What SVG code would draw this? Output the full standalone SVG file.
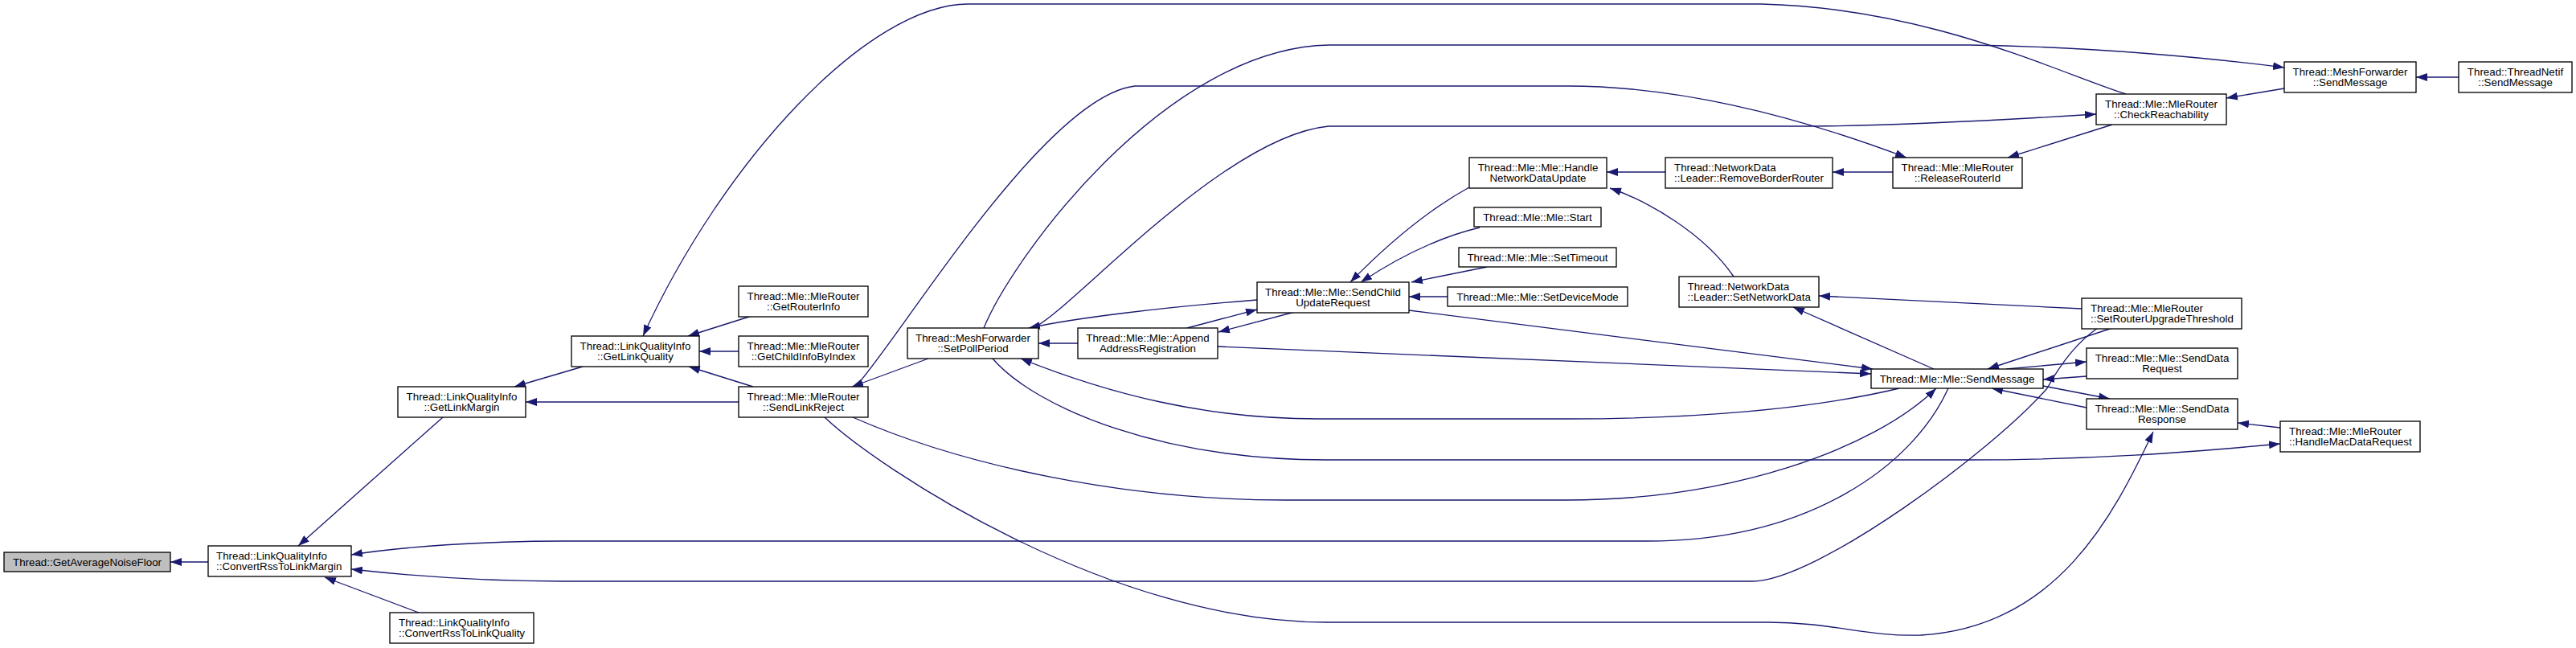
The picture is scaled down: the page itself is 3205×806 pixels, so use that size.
<svg xmlns="http://www.w3.org/2000/svg" width="3205" height="806" viewBox="0 0 3205 806">
<style>
.box{fill:#ffffff;stroke:#000000;stroke-width:1.33}
.root{fill:#bfbfbf;stroke:#000000;stroke-width:1.33}
.t{font-family:"Liberation Sans",Arial,Helvetica,sans-serif;font-size:13.33px;fill:#000000}
.c{text-anchor:middle}
.e{fill:none;stroke:#191970;stroke-width:1.33}
.a{marker-end:url(#ah)}
</style>
<defs>
<marker id="ah" markerUnits="userSpaceOnUse" markerWidth="14" markerHeight="10" refX="13.3" refY="4.7" orient="auto" viewBox="0 0 13.3 9.4">
<path d="M0,0 L13.3,4.7 L0,9.4 z" fill="#191970"/>
</marker>
</defs>
<rect x="0" y="0" width="3205" height="806" fill="#ffffff"/>
<g id="edges">
<path class="e a" d="M259,699 L212,699"/>
<path class="e a" d="M551,519 L371,679"/>
<path class="e a" d="M521,762 L404,718"/>
<path class="e a" d="M725,456 L640,481"/>
<path class="e a" d="M919,500 L654,500"/>
<path class="e a" d="M935,393 L856,418"/>
<path class="e a" d="M919,437 L870,437"/>
<path class="e a" d="M937,481 L857,456"/>
<path class="e a" d="M2645,117 C2560,90 2400,10 2191,5 L1205,5 C1080,5 900,200 800,418"/>
<path class="e a" d="M1066,479 C1120,420 1300,120 1412,107 L1950,107 C2100,107 2250,150 2372,196"/>
<path class="e a" d="M1155,446 L1060,481"/>
<path class="e a" d="M1285,408 C1330,390 1520,170 1653,157 L2237,157 C2350,157 2480,150 2608,142"/>
<path class="e a" d="M1224,408 C1260,320 1450,60 1653,56 L2450,56 C2600,58 2750,72 2842,84"/>
<path class="e a" d="M3059,96 L3006,96"/>
<path class="e a" d="M2842,110 L2770,122"/>
<path class="e a" d="M2628,155 L2498,196"/>
<path class="e a" d="M2355,214 L2280,214"/>
<path class="e a" d="M2072,214 L1999,214"/>
<path class="e a" d="M2157,344 C2120,290 2050,250 2003,234"/>
<path class="e a" d="M2590,384 L2263,368"/>
<path class="e a" d="M2406,459 L2231,382"/>
<path class="e a" d="M2628,408 L2473,459"/>
<path class="e a" d="M2496,459 L2596,450"/>
<path class="e a" d="M2596,468 L2542,472"/>
<path class="e a" d="M2542,480 L2625,496"/>
<path class="e a" d="M2596,507 L2478,483"/>
<path class="e a" d="M2837,532 L2784,526"/>
<path class="e a" d="M1234,445 C1290,510 1450,572 1650,572 L2450,572 C2600,572 2720,563 2837,552"/>
<path class="e a" d="M2363,483 C2250,510 2100,521 1950,521 L1640,521 C1500,521 1380,490 1270,446"/>
<path class="e a" d="M1061,519 C1200,580 1400,622 1600,622 L1950,622 C2150,622 2330,560 2409,483"/>
<path class="e a" d="M2424,483 C2380,580 2250,673 2050,673 L700,673 C600,673 500,680 437,690"/>
<path class="e a" d="M2610,408 C2585,425 2565,450 2547,483 C2480,560 2260,723 2180,723 L700,723 C600,723 500,715 437,708"/>
<path class="e a" d="M1026,519 C1090,580 1380,774 1650,774 L2200,774 C2280,774 2320,792 2390,790 C2560,780 2630,640 2679,537"/>
<path class="e a" d="M1564,373 C1450,382 1340,395 1280,408"/>
<path class="e a" d="M1828,233 C1770,265 1720,310 1680,351"/>
<path class="e a" d="M1841,283 C1790,295 1740,320 1693,351"/>
<path class="e a" d="M1850,332 L1756,351"/>
<path class="e a" d="M1801,369 L1753,369"/>
<path class="e a" d="M1477,408 L1564,385"/>
<path class="e a" d="M1611,388 L1516,413"/>
<path class="e a" d="M1341,427 L1292,427"/>
<path class="e a" d="M1753,386 L2330,459"/>
<path class="e a" d="M1515,431 L2328,465"/>
</g>
<g id="n0"><rect class="root" x="5" y="687" width="207" height="24"/><text class="t c" x="108.5" y="703.5">Thread::GetAverageNoiseFloor</text></g>
<g id="n1"><rect class="box" x="259" y="679" width="178" height="38"/><text class="t" x="269" y="695.5">Thread::LinkQualityInfo</text><text class="t" x="269" y="708.8">::ConvertRssToLinkMargin</text></g>
<g id="n2"><rect class="box" x="495" y="481" width="159" height="38"/><text class="t c" x="574.5" y="497.5">Thread::LinkQualityInfo</text><text class="t c" x="574.5" y="510.8">::GetLinkMargin</text></g>
<g id="n3"><rect class="box" x="485" y="762" width="179" height="38"/><text class="t" x="496" y="778.5">Thread::LinkQualityInfo</text><text class="t" x="496" y="791.8">::ConvertRssToLinkQuality</text></g>
<g id="n4"><rect class="box" x="711" y="418" width="159" height="38"/><text class="t c" x="790.5" y="434.5">Thread::LinkQualityInfo</text><text class="t c" x="790.5" y="447.8">::GetLinkQuality</text></g>
<g id="n5"><rect class="box" x="919" y="356" width="161" height="38"/><text class="t c" x="999.5" y="372.5">Thread::Mle::MleRouter</text><text class="t c" x="999.5" y="385.8">::GetRouterInfo</text></g>
<g id="n6"><rect class="box" x="919" y="418" width="161" height="38"/><text class="t c" x="999.5" y="434.5">Thread::Mle::MleRouter</text><text class="t c" x="999.5" y="447.8">::GetChildInfoByIndex</text></g>
<g id="n7"><rect class="box" x="919" y="481" width="161" height="38"/><text class="t c" x="999.5" y="497.5">Thread::Mle::MleRouter</text><text class="t c" x="999.5" y="510.8">::SendLinkReject</text></g>
<g id="n8"><rect class="box" x="1129" y="408" width="163" height="38"/><text class="t c" x="1210.5" y="424.5">Thread::MeshForwarder</text><text class="t c" x="1210.5" y="437.8">::SetPollPeriod</text></g>
<g id="n9"><rect class="box" x="1341" y="408" width="174" height="38"/><text class="t c" x="1428" y="424.5">Thread::Mle::Mle::Append</text><text class="t c" x="1428" y="437.8">AddressRegistration</text></g>
<g id="n10"><rect class="box" x="1564" y="351" width="189" height="38"/><text class="t c" x="1658.5" y="367.5">Thread::Mle::Mle::SendChild</text><text class="t c" x="1658.5" y="380.8">UpdateRequest</text></g>
<g id="n11"><rect class="box" x="1828" y="196" width="171" height="38"/><text class="t c" x="1913.5" y="212.5">Thread::Mle::Mle::Handle</text><text class="t c" x="1913.5" y="225.8">NetworkDataUpdate</text></g>
<g id="n12"><rect class="box" x="1834" y="258" width="158" height="24"/><text class="t c" x="1913" y="274.5">Thread::Mle::Mle::Start</text></g>
<g id="n13"><rect class="box" x="1815" y="308" width="196" height="24"/><text class="t c" x="1913" y="324.5">Thread::Mle::Mle::SetTimeout</text></g>
<g id="n14"><rect class="box" x="1801" y="357" width="224" height="24"/><text class="t c" x="1913" y="373.5">Thread::Mle::Mle::SetDeviceMode</text></g>
<g id="n15"><rect class="box" x="2072" y="196" width="208" height="38"/><text class="t" x="2083" y="212.5">Thread::NetworkData</text><text class="t" x="2083" y="225.8">::Leader::RemoveBorderRouter</text></g>
<g id="n16"><rect class="box" x="2089" y="344" width="174" height="38"/><text class="t" x="2099.5" y="360.5">Thread::NetworkData</text><text class="t" x="2099.5" y="373.8">::Leader::SetNetworkData</text></g>
<g id="n17"><rect class="box" x="2355" y="196" width="161" height="38"/><text class="t c" x="2435.5" y="212.5">Thread::Mle::MleRouter</text><text class="t c" x="2435.5" y="225.8">::ReleaseRouterId</text></g>
<g id="n18"><rect class="box" x="2608" y="117" width="162" height="38"/><text class="t c" x="2689" y="133.5">Thread::Mle::MleRouter</text><text class="t c" x="2689" y="146.8">::CheckReachability</text></g>
<g id="n19"><rect class="box" x="2842" y="77" width="164" height="38"/><text class="t c" x="2924" y="93.5">Thread::MeshForwarder</text><text class="t c" x="2924" y="106.8">::SendMessage</text></g>
<g id="n20"><rect class="box" x="3059" y="77" width="141" height="38"/><text class="t c" x="3129.5" y="93.5">Thread::ThreadNetif</text><text class="t c" x="3129.5" y="106.8">::SendMessage</text></g>
<g id="n21"><rect class="box" x="2328" y="459" width="214" height="24"/><text class="t c" x="2435" y="475.5">Thread::Mle::Mle::SendMessage</text></g>
<g id="n22"><rect class="box" x="2590" y="371" width="199" height="38"/><text class="t" x="2601" y="387.5">Thread::Mle::MleRouter</text><text class="t" x="2601" y="400.8">::SetRouterUpgradeThreshold</text></g>
<g id="n23"><rect class="box" x="2596" y="433" width="188" height="38"/><text class="t c" x="2690" y="449.5">Thread::Mle::Mle::SendData</text><text class="t c" x="2690" y="462.8">Request</text></g>
<g id="n24"><rect class="box" x="2596" y="496" width="188" height="38"/><text class="t c" x="2690" y="512.5">Thread::Mle::Mle::SendData</text><text class="t c" x="2690" y="525.8">Response</text></g>
<g id="n25"><rect class="box" x="2837" y="524" width="174" height="38"/><text class="t" x="2848" y="540.5">Thread::Mle::MleRouter</text><text class="t" x="2848" y="553.8">::HandleMacDataRequest</text></g>
</svg>
